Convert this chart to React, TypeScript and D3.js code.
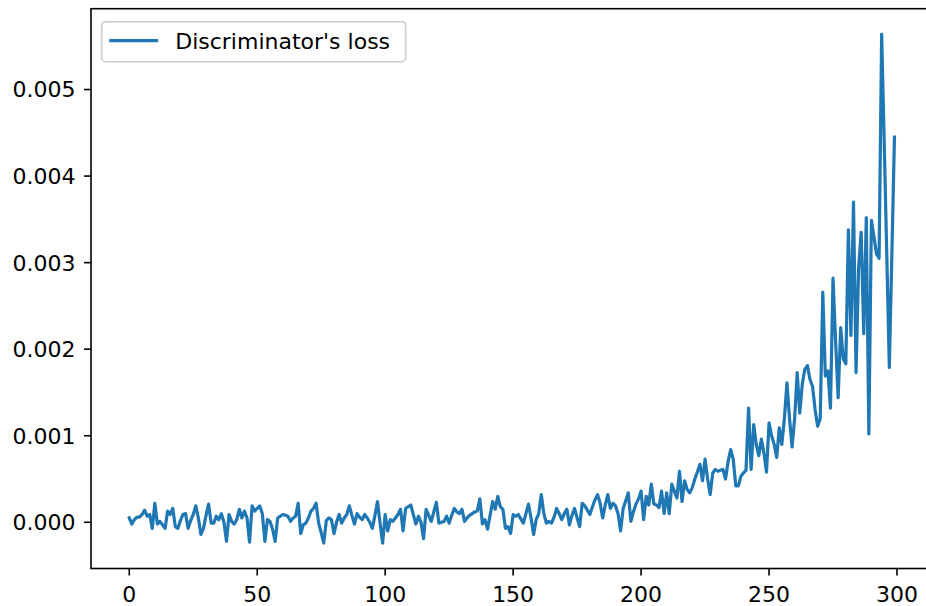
import React from "react";
import * as d3 from "d3";

const seriesName = "Discriminator's loss";

// discriminator loss per step (index = step)
const discriminatorLoss: number[] = [
  0.00005, -0.00002, 0.00003, 0.00006, 0.00006, 0.00009, 0.00014, 0.00007, 0.00009, -0.00007,
  0.00022, -0.00002, 0.00001, -0.00003, -0.00007, 0.00013, 0.00009, 0.00016, -0.00005, -0.00007,
  0.00002, 0.00009, 0.0001, -0.00007, 0.00002, 0.00009, 0.00019, 0.00005, -0.00014, -0.00007,
  0.00008, 0.00021, -0.00001, -0.00001, 0.00007, 0.00003, 0.0001, 0.0, -0.00022, 0.00009,
  0.00001, -0.00002, 0.00003, 0.00015, 0.00005, 0.00013, 0.00005, -0.00023, 0.00019, 0.00013,
  0.00016, 0.00019, 0.0001, -0.00022, 0.00003, 0.00001, -0.00008, -0.00022, 0.00005, 0.00007,
  0.00009, 0.00008, 0.00007, 0.00001, 0.00005, 0.00007, 0.00022, -0.00013, -0.00003, -0.00001,
  0.00005, 0.00013, 0.00016, 0.00022, -0.00001, -0.00012, -0.00024, 0.00002, 0.00005, 0.00003,
  -0.00013, 0.0, 0.00009, -0.00001, 0.00005, 0.00009, 0.00019, 0.00008, -0.00002, 0.0001,
  0.00006, 0.00003, 0.00009, 0.00005, 0.0, -0.00007, 0.00008, 0.00024, -0.00001, -0.00024,
  0.00009, -0.0001, 0.00003, 0.00001, 0.00005, 0.00009, 0.00015, -0.0001, 0.00016, 0.00018,
  0.0002, 0.00009, -0.00002, 0.00007, 0.0, -0.00019, 0.00015, 0.00008, 0.00001, 0.00012,
  0.00023, -0.00001, 0.0, 0.00001, 0.00007, -0.00001, 0.00008, 0.00016, 0.00012, 0.0001,
  0.00015, 0.00001, 0.00005, 0.00008, 0.0001, 0.00012, 0.00013, 0.00027, -0.00002, 0.00003,
  -0.00008, 0.00008, 0.00024, 0.00015, 0.0003, 0.00018, 0.00015, -0.00007, -0.00005, -0.00013,
  0.00009, 0.00007, 0.00009, 0.00004, -0.00001, 0.0001, 0.00021, 0.00005, -0.00014, 0.00003,
  0.0001, 0.00032, 0.0001, -0.00001, 0.00001, -0.00001, 0.00006, 0.00016, 0.0001, 0.00003,
  0.0001, 0.00015, -0.00003, 0.00008, 0.00016, 0.00005, -0.00005, 0.00022, 0.00019, 0.00014,
  0.00009, 0.00018, 0.00026, 0.00032, 0.00022, 0.00005, 0.0002, 0.00032, 0.00016, 0.00022,
  0.00019, 0.0001, -0.0001, 0.00016, 0.00025, 0.00034, 0.00001, 0.00012, 0.00021, 0.00027,
  0.00036, 0.00003, 0.0003, 0.0002, 0.00044, 0.00021, 0.0002, 0.00017, 0.00036, 0.0001,
  0.00034, 0.0001, 0.00044, 0.00036, 0.00028, 0.00059, 0.00024, 0.00048, 0.00038, 0.00034,
  0.0004, 0.0005, 0.00058, 0.00067, 0.00048, 0.00073, 0.0005, 0.00032, 0.00057, 0.00061,
  0.00059, 0.0006, 0.00061, 0.0005, 0.0007, 0.00084, 0.00073, 0.00042, 0.00042, 0.00053,
  0.00057, 0.0006, 0.00132, 0.00061, 0.00113, 0.0009, 0.00077, 0.00096, 0.0008, 0.00058,
  0.00115, 0.001, 0.0009, 0.00075, 0.00109, 0.0009, 0.0012, 0.00161, 0.0012, 0.00087,
  0.0012, 0.00173, 0.00126, 0.0016, 0.00177, 0.00181, 0.00165, 0.00157, 0.0013, 0.00111,
  0.0012, 0.00266, 0.00169, 0.00175, 0.00132, 0.00282, 0.0021, 0.00144, 0.00225, 0.00189,
  0.00183, 0.00338, 0.00216, 0.0037, 0.00173, 0.00295, 0.00335, 0.00218, 0.00352, 0.00102,
  0.00349, 0.0033, 0.0031, 0.00305, 0.00564, 0.0044, 0.0031, 0.00179, 0.0031, 0.00445,
];

const steps: number[] = discriminatorLoss.map((_, i) => i);

const xTickValues = [0, 50, 100, 150, 200, 250, 300];
const yTickValues = [0, 0.001, 0.002, 0.003, 0.004, 0.005];

const W = 926;
const H = 606;
const FONT = "'DejaVu Sans', sans-serif";
const FS = 22;
const BLUE = "#1f77b4";

export default function App() {
  const left = 91;
  const right = 932.7;
  const top = 8.7;
  const bottom = 568.5;

  const [xMin, xMax] = d3.extent(steps) as [number, number];
  const xPad = (xMax - xMin) * 0.05;
  const x = d3.scaleLinear().domain([xMin - xPad, xMax + xPad]).range([left, right]);

  const [yMin, yMax] = d3.extent(discriminatorLoss) as [number, number];
  const yPad = (yMax - yMin) * 0.05;
  const y = d3.scaleLinear().domain([yMin - yPad, yMax + yPad]).range([bottom, top]);

  const line = d3
    .line<number>()
    .x((_, i) => x(steps[i]))
    .y((d) => y(d));

  const fmt = d3.format(".3f");
  const tickLen = 7;

  const legX = left + 10.7;
  const legY = top + 13;
  const legW = 304;
  const legH = 40;

  return (
    <svg
      width={W}
      height={H}
      style={{ position: "absolute", left: 0, top: 0, display: "block", background: "#fff" }}
      fontFamily={FONT}
    >
      <rect x={0} y={0} width={W} height={H} fill="#fff" />
      <path
        d={line(discriminatorLoss) || ""}
        fill="none"
        stroke={BLUE}
        strokeWidth={3.2}
        strokeLinejoin="round"
        strokeLinecap="square"
      />
      {/* spines */}
      <rect
        x={left}
        y={top}
        width={right - left}
        height={bottom - top}
        fill="none"
        stroke="#000"
        strokeWidth={1.6}
      />
      {/* x ticks */}
      {xTickValues.map((t) => (
        <g key={"x" + t}>
          <line x1={x(t)} x2={x(t)} y1={bottom} y2={bottom + tickLen} stroke="#000" strokeWidth={1.6} />
          <text x={x(t)} y={601.5} textAnchor="middle" fontSize={FS} fill="#000">
            {t}
          </text>
        </g>
      ))}
      {/* y ticks */}
      {yTickValues.map((t) => (
        <g key={"y" + t}>
          <line x1={left - tickLen} x2={left} y1={y(t)} y2={y(t)} stroke="#000" strokeWidth={1.6} />
          <text x={left - tickLen - 8.5} y={y(t) + 7.9} textAnchor="end" fontSize={FS} fill="#000">
            {fmt(t)}
          </text>
        </g>
      ))}
      {/* legend */}
      <rect
        x={legX}
        y={legY}
        width={legW}
        height={legH}
        rx={4}
        ry={4}
        fill="#fff"
        fillOpacity={0.8}
        stroke="#cccccc"
        strokeWidth={1.6}
      />
      <line x1={legX + 7.5} x2={legX + 56.5} y1={legY + 19} y2={legY + 19} stroke={BLUE} strokeWidth={3.2} />
      <text x={legX + 73.5} y={legY + 27.5} fontSize={FS} fill="#000">
        {seriesName}
      </text>
    </svg>
  );
}
